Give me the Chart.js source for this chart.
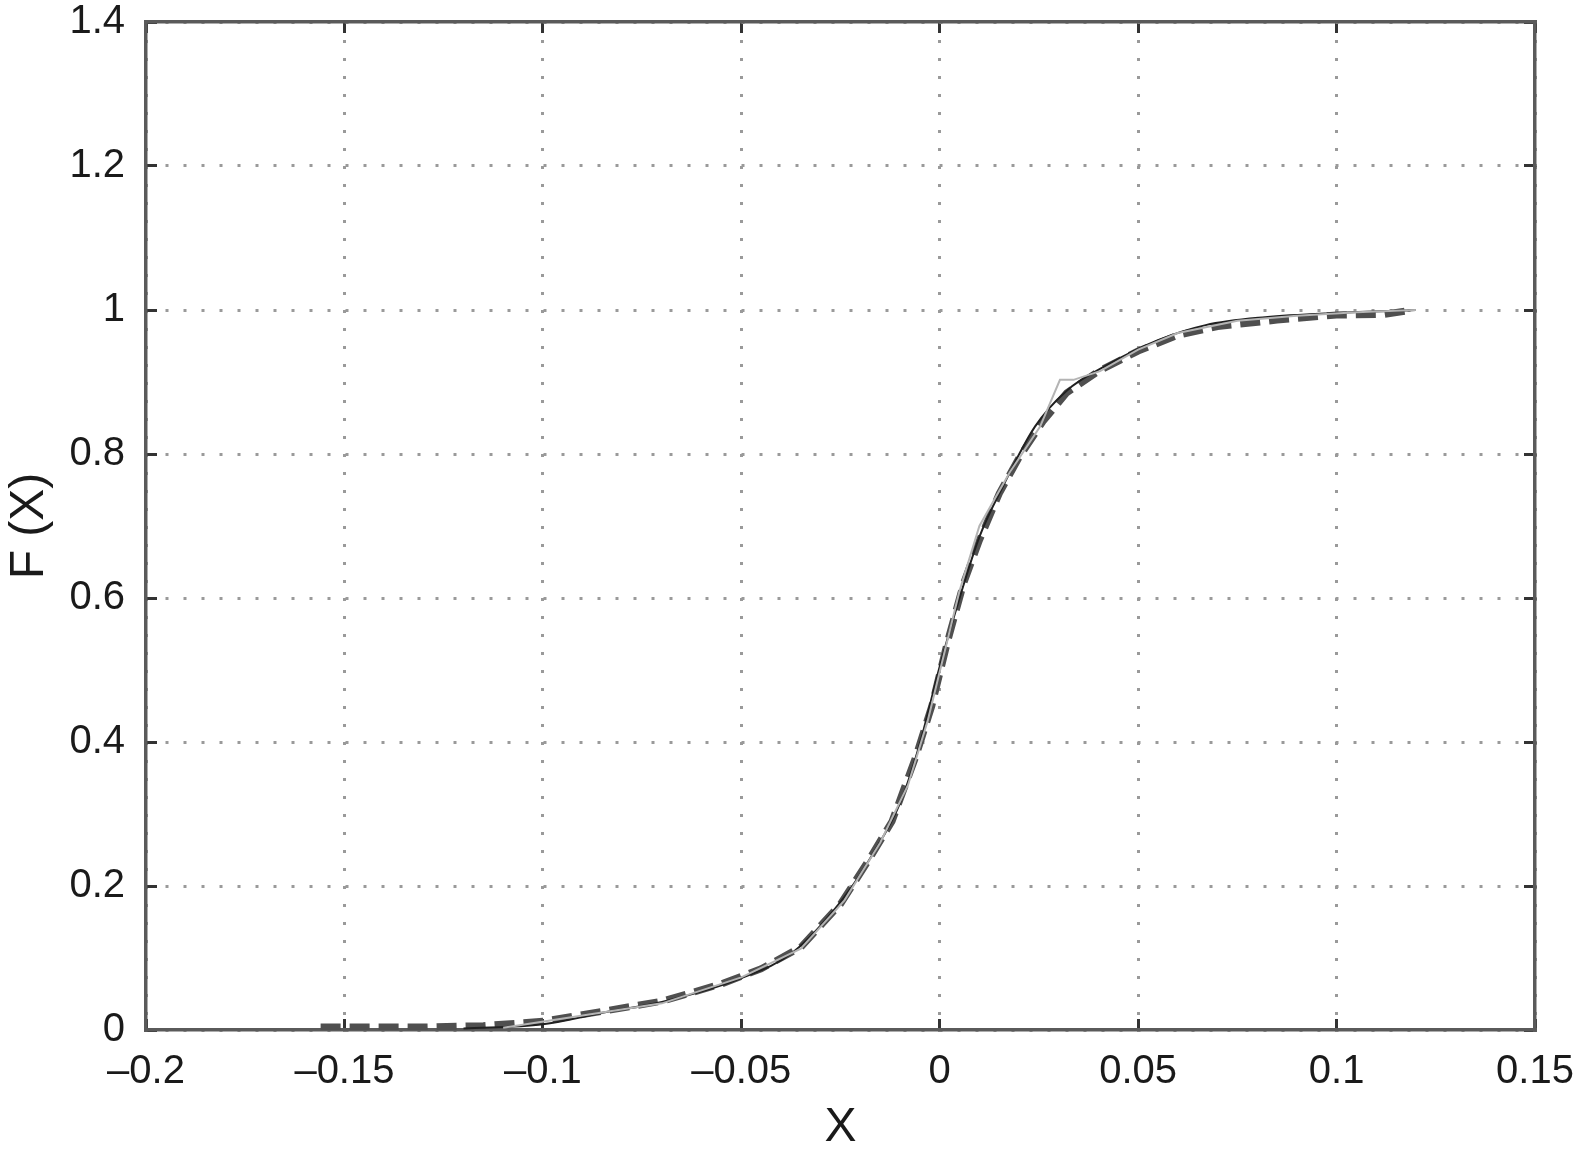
<!DOCTYPE html>
<html>
<head>
<meta charset="utf-8">
<script src="https://cdn.jsdelivr.net/npm/chart.js@4/dist/chart.umd.min.js"></script>
<style>
  html, body { margin: 0; padding: 0; background: #fff; }
  #wrap { width: 1577px; height: 1155px; }
</style>
</head>
<body>
<div id="wrap"><canvas id="cdf" width="1577" height="1155"></canvas></div>
<script>
// axis ranges / ticks
const xMin = -0.2, xMax = 0.15, xStep = 0.05;
const yMin = 0, yMax = 1.4, yStep = 0.2;

// empirical CDF (thick dashed)
const empX = [-0.156, -0.13, -0.115, -0.1, -0.085, -0.07, -0.055, -0.045, -0.035, -0.025, -0.018, -0.012,
              -0.006, -0.002, 0.002, 0.006, 0.01, 0.015, 0.02, 0.026, 0.032, 0.04, 0.05, 0.06, 0.07,
              0.085, 0.1, 0.112, 0.118];
const empF = [0.004, 0.004, 0.006, 0.012, 0.026, 0.04, 0.064, 0.085, 0.115, 0.175, 0.235, 0.29,
              0.38, 0.45, 0.54, 0.62, 0.68, 0.745, 0.795, 0.845, 0.885, 0.915, 0.943, 0.965, 0.977,
              0.986, 0.993, 0.994, 0.999];

// fitted CDF (thin black)
const fitX = [-0.12, -0.1, -0.085, -0.07, -0.05, -0.037, -0.024, -0.017, -0.01, -0.005, 0, 0.005,
              0.01, 0.016, 0.024, 0.032, 0.042, 0.055, 0.067, 0.082, 0.1, 0.12];
const fitF = [0.002, 0.008, 0.024, 0.039, 0.072, 0.108, 0.185, 0.243, 0.315, 0.398, 0.505, 0.6,
              0.685, 0.756, 0.838, 0.888, 0.923, 0.958, 0.979, 0.99, 0.996, 1.0];

// second estimate (thin light grey)
const altX = [-0.11, -0.09, -0.07, -0.05, -0.035, -0.024, -0.015, -0.008, -0.003, 0.001, 0.005, 0.01,
              0.0177, 0.0253, 0.0303, 0.0337, 0.0404, 0.05, 0.06, 0.075, 0.09, 0.105, 0.12];
const altF = [0.003, 0.02, 0.037, 0.073, 0.113, 0.18, 0.26, 0.34, 0.43, 0.52, 0.61, 0.7,
              0.775, 0.838, 0.903, 0.903, 0.915, 0.945, 0.968, 0.985, 0.992, 0.997, 1.0];

const toPts = (xs, ys) => xs.map((x, i) => ({ x: x, y: ys[i] }));

const FONT = "'Liberation Sans', Arial, Helvetica, sans-serif";

// tick labels like the print: en dash for negatives
function fmtTick(v) {
    const s = String(Number(v.toFixed(2)));
    return s.replace('-', '\u2013');
}

// grid lines are dotted, tick marks point into the plot
const inwardGrid = (showLines) => ({
    display: true,
    color: showLines ? '#9a9a9a' : 'rgba(0,0,0,0)',
    lineWidth: 3,
    drawTicks: true,
    tickLength: -11,
    tickColor: '#333333',
    tickWidth: 3,
    tickBorderDash: []
});

// in v4 border.dash is what dashes the grid lines
const boxBorder = { display: true, color: '#5a5a5a', width: 3.5, dash: [3, 15] };

// drop the label overhang padding so the plot box sits where the layout padding says
const noOverhang = (scale) => {
    scale.paddingTop = 0;
    scale.paddingBottom = 0;
    scale.paddingLeft = 0;
    scale.paddingRight = 0;
};

new Chart(document.getElementById('cdf').getContext('2d'), {
    type: 'line',
    data: {
        datasets: [
            {
                label: 'alt',
                data: toPts(altX, altF),
                borderColor: '#b4b4b4',
                borderWidth: 2,
                pointRadius: 0,
                tension: 0,
                order: 1
            },
            {
                label: 'fit',
                data: toPts(fitX, fitF),
                borderColor: '#202020',
                borderWidth: 2,
                pointRadius: 0,
                cubicInterpolationMode: 'monotone',
                order: 2
            },
            {
                label: 'empirical',
                data: toPts(empX, empF),
                borderColor: '#4f4f4f',
                borderWidth: 7,
                borderDash: [20, 9],
                pointRadius: 0,
                tension: 0,
                order: 3
            }
        ]
    },
    options: {
        responsive: false,
        animation: false,
        layout: { padding: { top: 22, right: 42, left: 0, bottom: 0 } },
        plugins: { legend: { display: false }, tooltip: { enabled: false } },
        scales: {
            x: {
                type: 'linear',
                position: 'bottom',
                min: xMin, max: xMax,
                grid: inwardGrid(true),
                border: boxBorder,
                ticks: {
                    stepSize: xStep,
                    color: '#1a1a1a',
                    font: { family: FONT, size: 40 },
                    padding: 29,
                    maxRotation: 0,
                    autoSkip: false,
                    callback: (v) => fmtTick(v)
                },
                title: {
                    display: true,
                    text: 'X',
                    color: '#1a1a1a',
                    font: { family: FONT, size: 48 },
                    padding: { top: 0, bottom: -2 }
                },
                afterFit: (scale) => { scale.height = 125; noOverhang(scale); }
            },
            x2: {
                type: 'linear',
                position: 'top',
                min: xMin, max: xMax,
                grid: inwardGrid(false),
                border: boxBorder,
                ticks: { stepSize: xStep, display: false },
                afterFit: (scale) => { scale.height = 0; noOverhang(scale); }
            },
            y: {
                type: 'linear',
                position: 'left',
                min: yMin, max: yMax,
                grid: inwardGrid(true),
                border: boxBorder,
                ticks: {
                    stepSize: yStep,
                    color: '#1a1a1a',
                    font: { family: FONT, size: 40 },
                    padding: 32,
                    callback: (v) => fmtTick(v)
                },
                title: {
                    display: true,
                    text: 'F (X)',
                    color: '#1a1a1a',
                    font: { family: FONT, size: 48 },
                    padding: { top: 1, bottom: 0 }
                },
                afterFit: (scale) => { scale.width = 146; noOverhang(scale); }
            },
            y2: {
                type: 'linear',
                position: 'right',
                min: yMin, max: yMax,
                grid: inwardGrid(false),
                border: boxBorder,
                ticks: { stepSize: yStep, display: false },
                afterFit: (scale) => { scale.width = 0; noOverhang(scale); }
            }
        }
    }
});
</script>
</body>
</html>
